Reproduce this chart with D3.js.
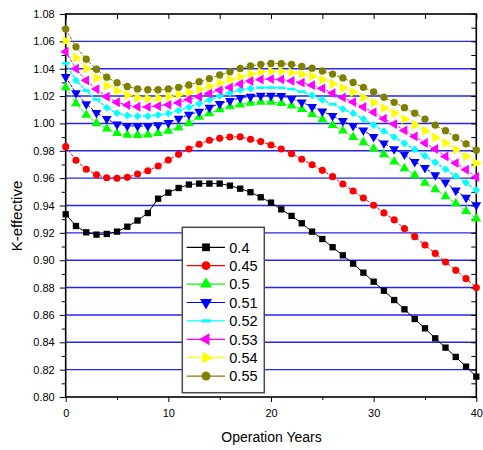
<!DOCTYPE html>
<html>
<head>
<meta charset="utf-8">
<script src="https://cdn.jsdelivr.net/npm/d3@7"></script>
<style>
body { margin: 0; background: #fff; }
svg { display: block; font-family: "Liberation Sans", Arial, sans-serif; }
</style>
</head>
<body>
<svg id="chart" width="483" height="450"></svg>
<script>

/*** DATA ***/

let years = [0, 1, 2, 3, 4, 5, 6, 7, 8, 9, 10, 11, 12, 13, 14, 15, 16, 17, 18, 19, 20,
             21, 22, 23, 24, 25, 26, 27, 28, 29, 30, 31, 32, 33, 34, 35, 36, 37, 38, 39, 40];

let k_040 = [0.9336, 0.9250, 0.9204, 0.9187, 0.9192, 0.9209, 0.9245, 0.9290, 0.9345, 0.9450, 0.9494,
             0.9528, 0.9553, 0.9560, 0.9560, 0.9560, 0.9545, 0.9523, 0.9497, 0.9460, 0.9421,
             0.9372, 0.9324, 0.9270, 0.9209, 0.9155, 0.9095, 0.9036, 0.8975, 0.8909, 0.8843,
             0.8777, 0.8709, 0.8641, 0.8570, 0.8502, 0.8429, 0.8361, 0.8293, 0.8222, 0.8149];

let k_045 = [0.9830, 0.9731, 0.9665, 0.9625, 0.9603, 0.9599, 0.9606, 0.9630, 0.9654, 0.9689, 0.9733,
             0.9774, 0.9813, 0.9848, 0.9877, 0.9891, 0.9901, 0.9902, 0.9884, 0.9867, 0.9842,
             0.9813, 0.9779, 0.9738, 0.9698, 0.9657, 0.9611, 0.9557, 0.9506, 0.9455, 0.9402,
             0.9346, 0.9295, 0.9231, 0.9172, 0.9111, 0.9050, 0.8987, 0.8926, 0.8865, 0.8800];

let k_050 = [1.0264, 1.0147, 1.0062, 1.0001, 0.9962, 0.9928, 0.9916, 0.9915, 0.9918, 0.9928, 0.9945,
             0.9970, 1.0002, 1.0047, 1.0074, 1.0102, 1.0124, 1.0138, 1.0150, 1.0158, 1.0158,
             1.0148, 1.0130, 1.0105, 1.0068, 1.0030, 0.9988, 0.9947, 0.9900, 0.9862, 0.9815,
             0.9774, 0.9720, 0.9671, 0.9622, 0.9565, 0.9518, 0.9466, 0.9416, 0.9358, 0.9304];

let k_051 = [1.0340, 1.0222, 1.0142, 1.0077, 1.0034, 0.9993, 0.9982, 0.9980, 0.9980, 0.9988, 1.0005,
             1.0035, 1.0064, 1.0086, 1.0116, 1.0143, 1.0165, 1.0187, 1.0196, 1.0203, 1.0203,
             1.0202, 1.0180, 1.0155, 1.0122, 1.0088, 1.0055, 1.0018, 0.9983, 0.9950, 0.9902,
             0.9854, 0.9813, 0.9774, 0.9720, 0.9676, 0.9622, 0.9569, 0.9510, 0.9457, 0.9403];

let k_052 = [1.0440, 1.0315, 1.0240, 1.0175, 1.0115, 1.0075, 1.0058, 1.0053, 1.0054, 1.0062, 1.0073,
             1.0095, 1.0118, 1.0145, 1.0172, 1.0201, 1.0225, 1.0245, 1.0256, 1.0262, 1.0262,
             1.0260, 1.0251, 1.0232, 1.0205, 1.0172, 1.0140, 1.0105, 1.0074, 1.0032, 0.9988,
             0.9944, 0.9900, 0.9854, 0.9810, 0.9762, 0.9715, 0.9665, 0.9614, 0.9566, 0.9512];

let k_053 = [1.0524, 1.0400, 1.0315, 1.0251, 1.0195, 1.0155, 1.0134, 1.0122, 1.0121, 1.0127, 1.0136,
             1.0151, 1.0175, 1.0195, 1.0219, 1.0243, 1.0264, 1.0288, 1.0310, 1.0321, 1.0324,
             1.0322, 1.0311, 1.0298, 1.0280, 1.0255, 1.0222, 1.0190, 1.0156, 1.0120, 1.0081,
             1.0035, 0.9995, 0.9949, 0.9905, 0.9857, 0.9813, 0.9759, 0.9710, 0.9662, 0.9608];

let k_054 = [1.0603, 1.0480, 1.0400, 1.0333, 1.0275, 1.0238, 1.0208, 1.0188, 1.0182, 1.0186, 1.0195,
             1.0212, 1.0226, 1.0248, 1.0271, 1.0296, 1.0320, 1.0342, 1.0362, 1.0376, 1.0381,
             1.0381, 1.0372, 1.0360, 1.0345, 1.0320, 1.0290, 1.0259, 1.0229, 1.0190, 1.0154,
             1.0112, 1.0076, 1.0032, 0.9990, 0.9947, 0.9898, 0.9857, 0.9808, 0.9759, 0.9710];

let k_055 = [1.0690, 1.0560, 1.0470, 1.0396, 1.0338, 1.0298, 1.0270, 1.0252, 1.0246, 1.0246, 1.0252,
             1.0264, 1.0281, 1.0305, 1.0328, 1.0354, 1.0378, 1.0402, 1.0420, 1.0432, 1.0439,
             1.0437, 1.0432, 1.0417, 1.0404, 1.0384, 1.0361, 1.0333, 1.0299, 1.0264, 1.0230,
             1.0192, 1.0154, 1.0115, 1.0075, 1.0031, 0.9988, 0.9947, 0.9897, 0.9851, 0.9804];

let series_names = ["0.4", "0.45", "0.5", "0.51", "0.52", "0.53", "0.54", "0.55"];
let series_values = [k_040, k_045, k_050, k_051, k_052, k_053, k_054, k_055];

// points of the 0.52 curve that show the bar symbol instead of a diamond
let k_052_bar_at = [0, 2, 3, 19, 20, 21, 22, 23, 26];

let y_major = [0.80, 0.82, 0.84, 0.86, 0.88, 0.90, 0.92, 0.94, 0.96, 0.98, 1.00, 1.02, 1.04, 1.06, 1.08];
let y_minor = [0.81, 0.83, 0.85, 0.87, 0.89, 0.91, 0.93, 0.95, 0.97, 0.99, 1.01, 1.03, 1.05, 1.07];
let y_grid  = [0.82, 0.84, 0.86, 0.88, 0.90, 0.92, 0.94, 0.96, 0.98, 1.00, 1.02, 1.04, 1.06];
let x_major = [0, 10, 20, 30, 40];
let x_minor = [5, 15, 25, 35];

/*** SETUP ***/

let svg = d3.select("#chart");

let margin = {top: 14, right: 6.7, bottom: 53, left: 65.7},
    width  = 483 - margin.left - margin.right,
    height = 450 - margin.top - margin.bottom;

let x = d3.scaleLinear().domain([0, 40]).range([margin.left, margin.left + width]),
    y = d3.scaleLinear().domain([0.80, 1.08]).range([margin.top + height, margin.top]);

let colors = ["#000000", "#ff0000", "#00ff00", "#0000ff", "#00ffff", "#ff00ff", "#ffff00", "#808000"];

// symbol type + rotation for each series
let markers = [
    {type: d3.symbolSquare,   rot: 0,   size: 40},
    {type: d3.symbolCircle,   rot: 0,   size: 40},
    {type: d3.symbolTriangle, rot: 0,   size: 42},
    {type: d3.symbolTriangle, rot: 180, size: 42},
    {type: d3.symbolSquare,   rot: 45,  size: 30},
    {type: d3.symbolTriangle, rot: -90, size: 42},
    {type: d3.symbolTriangle, rot: 90,  size: 42},
    {type: d3.symbolCircle,   rot: 0,   size: 42}
];

svg.append("rect").attr("width", 483).attr("height", 450).attr("fill", "#fff");

/*** GRID ***/

svg.append("g").selectAll("line")
    .data(y_grid).enter()
    .append("line")
    .attr("x1", x(0)).attr("x2", x(40))
    .attr("y1", (d) => y(d)).attr("y2", (d) => y(d))
    .attr("stroke", "#2626f0")
    .attr("stroke-width", 1.4);

/*** AXES ***/

function style_axis(g, font_size) {
    g.select(".domain").remove();
    g.selectAll(".tick line").attr("stroke", "#000").attr("stroke-width", 1);
    g.selectAll(".tick text").attr("fill", "#000").attr("font-size", font_size)
        .attr("font-family", "Liberation Sans, Arial, sans-serif");
}

svg.append("g")
    .attr("transform", "translate(" + x(0) + ",0)")
    .call(d3.axisLeft(y).tickValues(y_major).tickSize(6).tickPadding(5).tickFormat(d3.format(".2f")))
    .call((g) => style_axis(g, 11));
svg.append("g")
    .attr("transform", "translate(" + x(0) + ",0)")
    .call(d3.axisLeft(y).tickValues(y_minor).tickSize(4).tickFormat(""))
    .call((g) => style_axis(g, 11));

svg.append("g")
    .attr("transform", "translate(" + x(40) + ",0)")
    .call(d3.axisRight(y).tickValues(y_major.concat(y_minor)).tickSize(-5).tickFormat(""))
    .call((g) => style_axis(g, 11));

svg.append("g")
    .attr("transform", "translate(0," + y(0.80) + ")")
    .call(d3.axisBottom(x).tickValues(x_major).tickSize(5).tickPadding(7).tickFormat(d3.format("d")))
    .call((g) => style_axis(g, 11));
svg.append("g")
    .attr("transform", "translate(0," + y(0.80) + ")")
    .call(d3.axisBottom(x).tickValues(x_minor).tickSize(3).tickFormat(""))
    .call((g) => style_axis(g, 11));

svg.append("g")
    .attr("transform", "translate(0," + y(1.08) + ")")
    .call(d3.axisTop(x).tickValues(x_major.concat(x_minor)).tickSize(-5).tickFormat(""))
    .call((g) => style_axis(g, 11));

// frame
svg.append("rect")
    .attr("x", x(0)).attr("y", y(1.08))
    .attr("width", x(40) - x(0)).attr("height", y(0.80) - y(1.08))
    .attr("fill", "none")
    .attr("stroke", "#000")
    .attr("stroke-width", 1.6);

svg.append("text")
    .attr("x", (x(0) + x(40)) / 2 + 0.5)
    .attr("y", 442)
    .attr("text-anchor", "middle")
    .attr("font-size", 14)
    .text("Operation Years");

svg.append("text")
    .attr("transform", "translate(22,216) rotate(-90)")
    .attr("text-anchor", "middle")
    .attr("font-size", 15)
    .text("K-effective");

/*** SERIES ***/

let line = d3.line()
    .x((d, i) => x(years[i]))
    .y((d) => y(d));

function draw_marker(sel, s, color) {
    let m = markers[s];
    sel.append("path")
        .attr("d", d3.symbol().type(m.type).size(m.size))
        .attr("transform", (d) => "translate(" + d.px + "," + d.py + ") rotate(" + m.rot + ")")
        .attr("fill", color);
}

series_values.forEach((vals, s) => {
    let g = svg.append("g").attr("class", "series");

    g.append("path")
        .datum(vals)
        .attr("d", line)
        .attr("fill", "none")
        .attr("stroke", colors[s])
        .attr("stroke-width", s === 4 ? 1.6 : 1)
        .attr("stroke-dasharray", s === 0 ? null : "3,1.5");

    let pts = vals.map((v, i) => ({i: i, px: x(years[i]), py: y(v)}));

    if (s === 4) {
        let bars = pts.filter((d) => k_052_bar_at.includes(d.i)),
            diamonds = pts.filter((d) => !k_052_bar_at.includes(d.i));
        g.selectAll("rect.bar-sym")
            .data(bars).enter()
            .append("rect")
            .attr("x", (d) => d.px - 4).attr("y", (d) => d.py - 1.3)
            .attr("width", 8).attr("height", 2.6)
            .attr("fill", colors[s]);
        draw_marker(g.selectAll("path.sym").data(diamonds).enter(), s, colors[s]);
    } else {
        draw_marker(g.selectAll("path.sym").data(pts).enter(), s, colors[s]);
    }
});

/*** LEGEND ***/

let legend = {x: 182.3, y: 227.3, w: 82, h: 165.4, row0: 247.3, row_h: 18.4};

svg.append("rect")
    .attr("x", legend.x).attr("y", legend.y)
    .attr("width", legend.w).attr("height", legend.h)
    .attr("fill", "#fff")
    .attr("stroke", "#4a4a4a")
    .attr("stroke-width", 1.5);

let rows = svg.append("g").selectAll("g.legend-row")
    .data(series_names).enter()
    .append("g")
    .attr("class", "legend-row")
    .attr("transform", (d, i) => "translate(0," + (legend.row0 + i * legend.row_h) + ")");

rows.append("line")
    .attr("x1", 186.7).attr("x2", 225)
    .attr("y1", 0).attr("y2", 0)
    .attr("stroke", (d, i) => colors[i])
    .attr("stroke-width", 1.2);

rows.each(function(d, i) {
    let r = d3.select(this);
    if (i === 4) {
        r.append("rect")
            .attr("x", 201.5).attr("y", -1.6)
            .attr("width", 9).attr("height", 3.2)
            .attr("fill", colors[i]);
    } else {
        let m = markers[i];
        r.append("path")
            .attr("d", d3.symbol().type(m.type).size(m.size * 1.5))
            .attr("transform", "translate(206,0) rotate(" + m.rot + ")")
            .attr("fill", colors[i]);
    }
});

rows.append("text")
    .attr("x", 229.3)
    .attr("y", 5.2)
    .attr("font-size", 14.5)
    .text((d) => d);

</script>
</body>
</html>
